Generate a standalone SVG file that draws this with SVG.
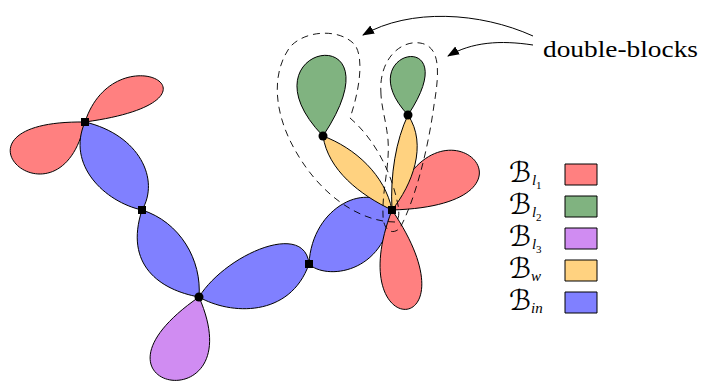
<svg xmlns="http://www.w3.org/2000/svg" width="703" height="381" viewBox="0 0 703 381">
<defs>
<style>
.p{stroke:#000;stroke-width:1;stroke-linejoin:round}
.red{fill:#FF8080}.grn{fill:#80B380}.vio{fill:#D08CF2}.yel{fill:#FFD280}.blu{fill:#8080FF}
.dash{fill:none;stroke:#000;stroke-width:0.9;stroke-dasharray:7 5}
.arr{fill:none;stroke:#000;stroke-width:1}
.sq{fill:#000}
.B{font-family:"DejaVu Serif","DejaVu Sans",serif;font-size:28px;fill:#000}
.s1{font-family:"Liberation Serif",serif;font-style:italic;font-size:15px}
.s2{font-family:"Liberation Serif",serif;font-size:11px}
.lbl{font-family:"Liberation Serif",serif;font-size:23px;fill:#000}
</style>
<marker id="ah" viewBox="0 0 12 10" refX="11" refY="5" markerWidth="12" markerHeight="10" markerUnits="userSpaceOnUse" orient="auto">
<path d="M0,0.5 L12,5 L0,9.5 Z" fill="#000"/>
</marker>
</defs>
<rect width="703" height="381" fill="#fff"/>
<g id="blocks">
<g id="b-red-top"><path class="p red" d="M85,122 C115,30 245,100 85,122 Z"/></g>
<g id="b-red-left"><path class="p red" d="M85,122 C-70,120 60,240 85,122 Z"/></g>
<g id="b-in-1"><path class="p blu" d="M85,122 C66,165 105,202 142,210 C160,180 140,135 85,122 Z"/></g>
<g id="b-in-2"><path class="p blu" d="M142,210 C180,222 202,260 199,297 C160,290 124,265 142,210 Z"/></g>
<g id="b-vio"><path class="p vio" d="M199,297 C65,390 255,425 199,297 Z"/></g>
<g id="b-in-3"><path class="p blu" d="M199,297 C225,255 305,220 309,264 C290,318 230,315 199,297 Z"/></g>
<g id="b-in-4"><path class="p blu" d="M309,264 C312,205 370,180 392,210 C385,275 325,280 309,264 Z"/></g>
<g id="b-red-right"><path class="p red" d="M392,210 C435,78 565,205 392,210 Z"/></g>
<g id="b-red-down"><path class="p red" d="M392,210 C340,345 480,340 392,210 Z"/></g>
<g id="b-w-1"><path class="p yel" d="M323,136 C355,148 385,175 392,210 C360,195 328,170 323,136 Z"/></g>
<g id="b-w-2"><path class="p yel" d="M408,115 C396,140 390,175 392,210 C412,185 428,145 408,115 Z"/></g>
<g id="b-grn-1"><path class="p grn" d="M323,136 C235,45 405,13 323,136 Z"/></g>
<g id="b-grn-2"><path class="p grn" d="M408,115 C347,50 468,25 408,115 Z"/></g>
</g>
<g id="double-blocks">
<path class="dash" d="M395,222 C360,222 320,195 295,150 C275,115 270,75 290,47 C305,30 340,28 355,45 C365,60 358,95 350,118 C370,135 390,165 398,205 C400,215 398,222 395,222 Z"/>
<path class="dash" d="M381,95 C378,60 400,40 420,43 C440,46 440,70 434,105 C428,150 415,200 400,228 C392,236 383,230 383,215 C382,190 390,165 388,140 C386,120 382,110 381,95 Z"/>
</g>
<g id="vertices">
<g id="v1"><rect class="sq" x="81" y="118" width="8" height="8"/></g>
<g id="v2"><rect class="sq" x="138" y="206" width="8" height="8"/></g>
<g id="v3"><circle class="sq" cx="199" cy="297" r="4.5"/></g>
<g id="v4"><rect class="sq" x="305" y="260" width="8" height="8"/></g>
<g id="v5"><rect class="sq" x="388" y="206" width="8" height="8"/></g>
<g id="v6"><circle class="sq" cx="323" cy="136" r="4.5"/></g>
<g id="v7"><circle class="sq" cx="408" cy="115" r="4.5"/></g>
</g>
<g id="connectors">
<path class="arr" marker-end="url(#ah)" d="M533,36 C480,12 410,8 363,35"/>
<path class="arr" marker-end="url(#ah)" d="M533,45 C500,40 472,42 448,56"/>
</g>
<g id="label"><text class="lbl" x="543" y="57" textLength="155" lengthAdjust="spacingAndGlyphs">double-blocks</text></g>
<g id="legend">
<g id="lg1"><text class="B" x="509" y="182">ℬ<tspan class="s1" x="532" y="185">l</tspan><tspan class="s2" x="536" y="189">1</tspan></text><rect class="p red" x="565" y="164" width="32" height="21"/></g>
<g id="lg2"><text class="B" x="509" y="214">ℬ<tspan class="s1" x="532" y="217">l</tspan><tspan class="s2" x="536" y="221">2</tspan></text><rect class="p grn" x="565" y="196" width="32" height="21"/></g>
<g id="lg3"><text class="B" x="509" y="246">ℬ<tspan class="s1" x="532" y="249">l</tspan><tspan class="s2" x="536" y="253">3</tspan></text><rect class="p vio" x="565" y="228" width="32" height="21"/></g>
<g id="lg4"><text class="B" x="509" y="278">ℬ<tspan class="s1" x="531" y="281">w</tspan></text><rect class="p yel" x="565" y="260" width="32" height="21"/></g>
<g id="lg5"><text class="B" x="509" y="310">ℬ<tspan class="s1" x="531" y="313">in</tspan></text><rect class="p blu" x="565" y="292" width="32" height="21"/></g>
</g>
</svg>
